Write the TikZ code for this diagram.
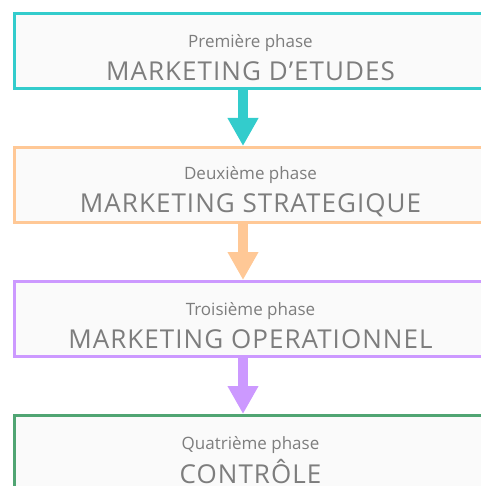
\documentclass[tikz,border=0pt]{standalone}
\usepackage{fontspec}
\setmainfont{Open Sans}
\usepackage{tikz}
\usetikzlibrary{arrows.meta,positioning}
\definecolor{turquoise}{RGB}{51,204,204}
\definecolor{peach}{RGB}{255,200,150}
\definecolor{lilac}{RGB}{204,153,255}
\definecolor{sage}{RGB}{80,165,115}
\definecolor{boxfill}{RGB}{250,250,250}
\definecolor{textgray}{RGB}{125,125,125}
\newcommand{\phasenum}[1]{\rule{0pt}{27pt}\fontsize{17}{20}\selectfont #1}
\newcommand{\phasename}[1]{\fontsize{26}{28}\selectfont\addfontfeature{LetterSpace=4}#1}

\begin{document}
\begin{tikzpicture}[x=1pt, y=1pt,
    phase/.style={rectangle, draw, line width=3pt, fill=boxfill, text=textgray,
      minimum width=473pt, minimum height=75pt, align=center, inner sep=0pt},
    flow/.style={line width=10pt, -{Triangle[width=29pt, length=28pt]}}
]
\useasboundingbox (0,0) rectangle (480,-486);

% The four phases
\node[phase, draw=turquoise] (etudes) at (250.5,-51) {\phasenum{Première phase}\\[9pt]
\phasename{MARKETING D’ETUDES}};

\node[phase, draw=peach, below=56pt of etudes] (strat) {\phasenum{Deuxième phase}\\[9pt]
\phasename{MARKETING STRATEGIQUE}};

\node[phase, draw=lilac, below=56pt of strat] (oper) {\phasenum{Troisième phase}\\[9pt]
\phasename{MARKETING OPERATIONNEL}};

\node[phase, draw=sage, below=56pt of oper] (controle) {\phasenum{Quatrième phase}\\[4pt]
\phasename{CONTRÔLE}};

% Arrows
\draw[flow, turquoise] ([xshift=-7.5pt]etudes.south) -- ([xshift=-7.5pt]strat.north);
\draw[flow, peach] ([xshift=-7.5pt]strat.south) -- ([xshift=-7.5pt]oper.north);
\draw[flow, lilac] ([xshift=-7.5pt]oper.south) -- ([xshift=-7.5pt]controle.north);

\end{tikzpicture}
\end{document}
